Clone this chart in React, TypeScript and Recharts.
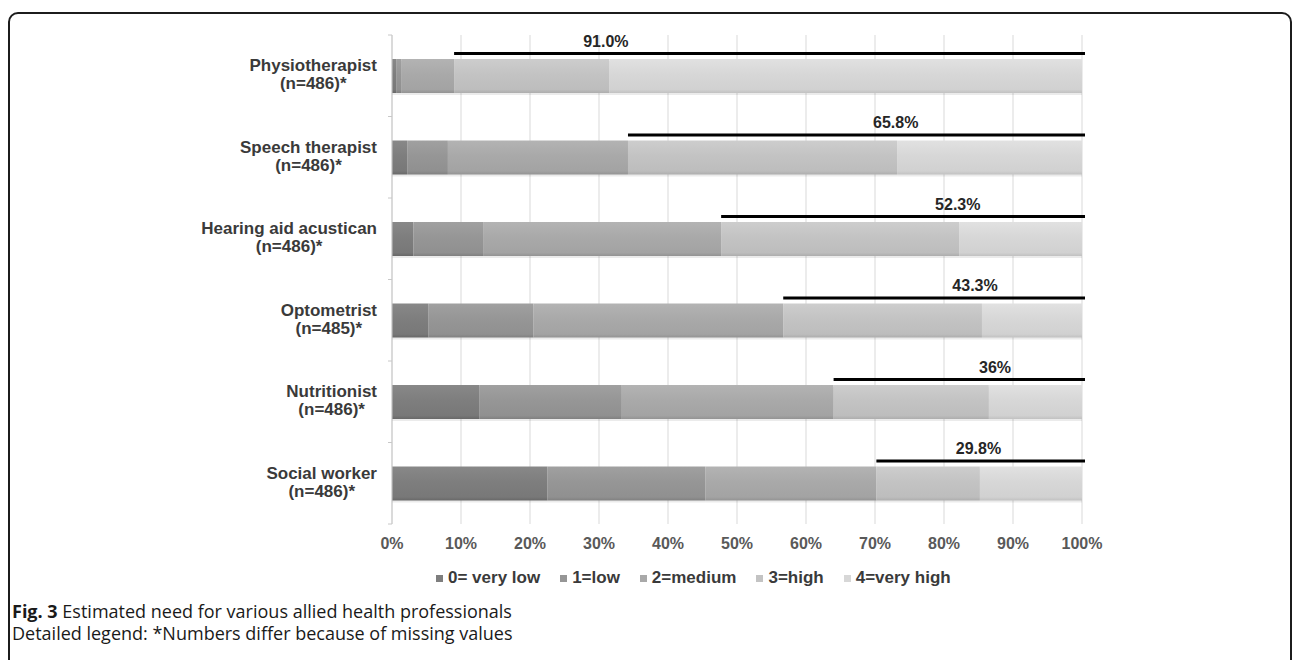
import React from 'react';
import { BarChart, Bar, XAxis, YAxis, CartesianGrid } from 'recharts';

// ---------- data ----------
const professions = [
  'Physiotherapist',
  'Speech therapist',
  'Hearing aid acustican',
  'Optometrist',
  'Nutritionist',
  'Social worker',
];
const sampleSizes = ['(n=486)*', '(n=486)*', '(n=486)*', '(n=485)*', '(n=486)*', '(n=486)*'];

const veryLow = [0.6, 2.2, 3.1, 5.3, 12.7, 22.5];
const low = [0.8, 5.9, 10.1, 15.2, 20.6, 22.9];
const medium = [7.6, 26.1, 34.5, 36.2, 30.7, 24.8];
const high = [22.5, 39.0, 34.5, 28.8, 22.5, 15.0];
const veryHigh = [68.5, 26.8, 17.8, 14.5, 13.5, 14.8];

// share of "3=high" + "4=very high", and where its label sits (in % of the axis)
const highShareLabels = ['91.0%', '65.8%', '52.3%', '43.3%', '36%', '29.8%'];
const highShareLabelAt = [31, 73, 82, 84.5, 87.4, 85];

const xTicks = [0, 10, 20, 30, 40, 50, 60, 70, 80, 90, 100];

const seriesKeys = ['veryLow', 'low', 'medium', 'high', 'veryHigh'];
const seriesNames = ['0= very low', '1=low', '2=medium', '3=high', '4=very high'];
const seriesColors = ['#7e7e7e', '#969696', '#a9a9a9', '#c3c3c3', '#d7d7d7'];

const captionTitle = 'Fig. 3';
const captionText = 'Estimated need for various allied health professionals';
const captionNote = 'Detailed legend: *Numbers differ because of missing values';

const data = professions.map((name, i) => ({
  name,
  n: sampleSizes[i],
  veryLow: veryLow[i],
  low: low[i],
  medium: medium[i],
  high: high[i],
  veryHigh: veryHigh[i],
  shareLabel: highShareLabels[i],
  labelAt: highShareLabelAt[i],
}));

// ---------- layout ----------
const W = 1292;
const H = 660;
const PLOT_LEFT = 392;
const PLOT_RIGHT = 1082;
const PLOT_TOP = 35;
const PLOT_BOTTOM = 524;
const X_AXIS_H = 40;
const BAND = (PLOT_BOTTOM - PLOT_TOP) / professions.length;

const LABEL_FONT = 'bold 17px "Liberation Sans", Arial, sans-serif';
let measureCtx: CanvasRenderingContext2D | null = null;
function measure(text: string, font: string): number {
  if (!measureCtx) {
    const c = document.createElement('canvas');
    measureCtx = c.getContext('2d');
  }
  if (!measureCtx) return text.length * 9;
  measureCtx.font = font;
  return measureCtx.measureText(text).width;
}

function shade(hex: string, d: number): string {
  const v = parseInt(hex.slice(1, 3), 16);
  const n = Math.max(0, Math.min(255, v + d));
  const h = n.toString(16).padStart(2, '0');
  return `#${h}${h}${h}`;
}

const YTick = (props: any) => {
  const { x, y, payload, index } = props;
  const name: string = payload.value;
  const idx = professions.indexOf(name);
  const w = measure(name, LABEL_FONT);
  const cx = x - w / 2;
  const axisX = x + 15;
  return (
    <g>
      <text
        x={cx}
        y={y - 10}
        textAnchor="middle"
        dominantBaseline="central"
        style={{ font: LABEL_FONT }}
        fill="#3a3a3a"
      >
        {name}
      </text>
      <text
        x={cx}
        y={y + 8}
        textAnchor="middle"
        dominantBaseline="central"
        style={{ font: LABEL_FONT }}
        fill="#3a3a3a"
      >
        {sampleSizes[idx]}
      </text>
      <line x1={axisX - 4} x2={axisX} y1={y - BAND / 2} y2={y - BAND / 2} stroke="#c8c8c8" />
      {index === professions.length - 1 || idx === professions.length - 1 ? (
        <line x1={axisX - 4} x2={axisX} y1={y + BAND / 2} y2={y + BAND / 2} stroke="#c8c8c8" />
      ) : null}
    </g>
  );
};

const XTick = (props: any) => {
  const { x, y, payload } = props;
  return (
    <text
      x={x}
      y={y + 25}
      textAnchor="middle"
      style={{ font: 'bold 16px "Liberation Sans", Arial, sans-serif' }}
      fill="#595959"
    >
      {`${payload.value}%`}
    </text>
  );
};

const SegmentShape = (props: any) => {
  const { x, y, width, height, fill } = props;
  if (!width || width <= 0) return null;
  return (
    <g>
      <rect x={x} y={y + 2} width={width} height={height} fill="#000" opacity={0.08} />
      <rect x={x} y={y} width={width} height={height} fill={fill} />
    </g>
  );
};

// "3=high" segment: also draws the bracket line spanning high + very high and its label
const HighShape = (props: any) => {
  const { x, y, width, height, fill, payload } = props;
  const perPct = width / payload.high;
  const startPct = payload.veryLow + payload.low + payload.medium;
  const endX = x + perPct * (payload.high + payload.veryHigh);
  const lineY = y - 5.5;
  const labelX = x + perPct * (payload.labelAt - startPct);
  return (
    <g>
      <rect x={x} y={y + 2} width={width} height={height} fill="#000" opacity={0.08} />
      <rect x={x} y={y} width={width} height={height} fill={fill} />
      <line x1={x} x2={endX + 3} y1={lineY} y2={lineY} stroke="#000" strokeWidth={3} />
      <text
        x={labelX}
        y={lineY - 7}
        textAnchor="middle"
        style={{ font: 'bold 16px "Liberation Sans", Arial, sans-serif' }}
        fill="#262626"
      >
        {payload.shareLabel}
      </text>
    </g>
  );
};

const captionStyle: React.CSSProperties = {
  position: 'absolute',
  left: 12,
  height: 19,
  font: '18px "Open Sans", "Noto Sans", sans-serif',
  lineHeight: '19px',
  color: '#1a1a1a',
  whiteSpace: 'nowrap',
};

export default function App() {
  return (
    <div
      style={{
        position: 'fixed',
        left: 0,
        top: 0,
        width: W,
        height: H,
        overflow: 'hidden',
        background: '#fff',
      }}
    >
      <div
        style={{
          position: 'absolute',
          left: 8,
          top: 12,
          width: W - 8,
          height: 720,
          boxSizing: 'border-box',
          border: '2px solid #1c1c1c',
          borderRadius: 10,
        }}
      />
      <div style={{ position: 'absolute', left: 0, top: 0 }}>
        <BarChart
          width={W}
          height={H}
          data={data}
          layout="vertical"
          barSize={34}
          margin={{ top: PLOT_TOP, right: W - PLOT_RIGHT, left: 0, bottom: H - PLOT_BOTTOM - X_AXIS_H }}
        >
          <defs>
            {seriesKeys.map((k, i) => (
              <linearGradient key={k} id={`grad-${k}`} x1="0" y1="0" x2="0" y2="1">
                <stop offset="0%" stopColor={shade(seriesColors[i], 10)} />
                <stop offset="45%" stopColor={seriesColors[i]} />
                <stop offset="90%" stopColor={shade(seriesColors[i], -6)} />
                <stop offset="100%" stopColor={shade(seriesColors[i], -22)} />
              </linearGradient>
            ))}
          </defs>
          <CartesianGrid horizontal={false} stroke="#d9d9d9" />
          <XAxis
            type="number"
            domain={[0, 100]}
            ticks={xTicks}
            axisLine={false}
            tickLine={false}
            tickSize={0}
            tickMargin={0}
            height={X_AXIS_H}
            tick={<XTick />}
            interval={0}
          />
          <YAxis
            type="category"
            dataKey="name"
            width={PLOT_LEFT}
            axisLine={{ stroke: '#c8c8c8' }}
            tickLine={false}
            tickSize={0}
            tickMargin={15}
            tick={<YTick />}
            interval={0}
          />
          {seriesKeys.map((k, i) => (
            <Bar
              key={k}
              dataKey={k}
              name={seriesNames[i]}
              stackId="need"
              fill={`url(#grad-${k})`}
              isAnimationActive={false}
              shape={k === 'high' ? <HighShape /> : <SegmentShape />}
            />
          ))}
        </BarChart>
      </div>
      {/* legend */}
      <div
        style={{
          position: 'absolute',
          left: 436,
          top: 567,
          height: 22,
          display: 'flex',
          alignItems: 'center',
          gap: 20,
          font: 'bold 17px "Liberation Sans", Arial, sans-serif',
          color: '#3a3a3a',
          whiteSpace: 'nowrap',
        }}
      >
        {seriesNames.map((n, i) => (
          <div key={n} style={{ display: 'flex', alignItems: 'center' }}>
            <span
              style={{
                display: 'inline-block',
                width: 7,
                height: 7,
                background: seriesColors[i],
                marginRight: 5,
              }}
            />
            <span>{n}</span>
          </div>
        ))}
      </div>
      {/* caption */}
      <div style={{ ...captionStyle, top: 602 }}>
        <b>{captionTitle}</b> {captionText}
      </div>
      <div style={{ ...captionStyle, top: 624 }}>{captionNote}</div>
    </div>
  );
}
